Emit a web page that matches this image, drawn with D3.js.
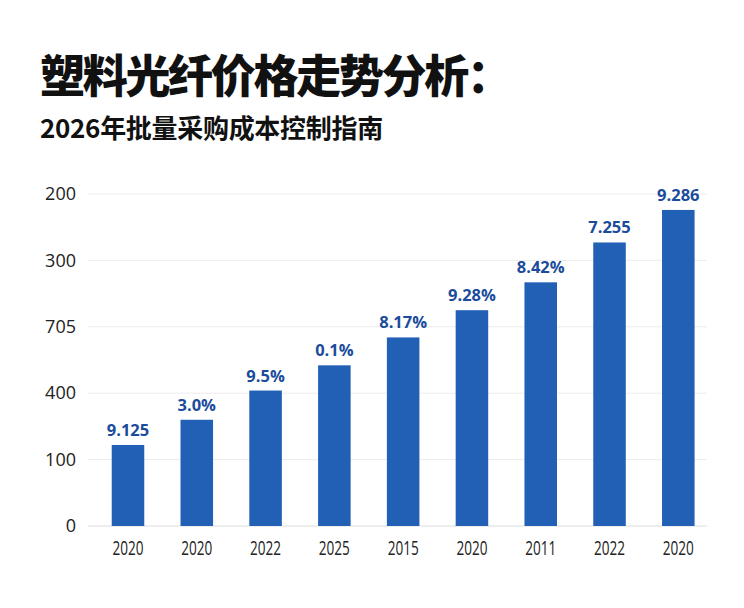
<!DOCTYPE html>
<html><head><meta charset="utf-8">
<script src="https://cdn.jsdelivr.net/npm/d3@7"></script>
<style>
html,body{margin:0;padding:0;background:#fff;}
svg{display:block;}
</style></head>
<body>
<svg id="chart" width="744" height="608"></svg>
<script>
const title = "塑料光纤价格走势分析：";
const subtitle = "2026年批量采购成本控制指南";
const categories = ["2020","2020","2022","2025","2015","2020","2011","2022","2020"];
const values = [122, 160, 204, 242, 284, 325, 367, 427, 476];
const valueLabels = ["9.125","3.0%","9.5%","0.1%","8.17%","9.28%","8.42%","7.255","9.286"];
const yTickValues = [0, 100, 200, 300, 400, 500];
const yTickLabels = ["0","100","400","705","300","200"];

const svg = d3.select("#chart");
const font = "'Noto Sans CJK SC','Noto Sans',sans-serif";

svg.append("text").attr("x", 40).attr("y", 93)
  .attr("font-family", font).attr("font-weight", 900).attr("font-size", 45)
  .attr("letter-spacing", -2.3)
  .attr("fill", "#111").text(title);
svg.append("text").attr("x", 40).attr("y", 138)
  .attr("font-family", font).attr("font-weight", 700).attr("font-size", 26)
  .attr("letter-spacing", -0.3)
  .attr("fill", "#111").text(subtitle);

const idx = categories.map((d, i) => i);
const x = d3.scaleBand().domain(idx).range([93.6, 712.7])
  .paddingInner(0.527).paddingOuter(0.2635);
const y = d3.scaleLinear().domain([0, 500]).range([526, 194]);

// gridlines
svg.append("g").selectAll("line").data(yTickValues).join("line")
  .attr("x1", 88).attr("x2", 707)
  .attr("y1", d => y(d)).attr("y2", d => y(d))
  .attr("stroke", d => d === 0 ? "#dcdcdc" : "#ececec").attr("stroke-width", 1);

// y axis labels
const yAxis = d3.axisLeft(y).tickValues(yTickValues)
  .tickFormat((d, i) => yTickLabels[i]).tickSize(0).tickPadding(0);
const gy = svg.append("g").attr("transform", "translate(76,0)").call(yAxis);
gy.select(".domain").remove();
gy.selectAll("text").attr("font-family", "'Open Sans','Noto Sans',sans-serif")
  .attr("font-size", 18).attr("fill", "#222");

// bars
svg.append("g").selectAll("rect").data(values).join("rect")
  .attr("x", (d, i) => x(i)).attr("width", x.bandwidth())
  .attr("y", d => y(d)).attr("height", d => y(0) - y(d))
  .attr("fill", "#2260b6");

// value labels
svg.append("g").selectAll("text").data(values).join("text")
  .attr("x", (d, i) => x(i) + x.bandwidth() / 2)
  .attr("y", d => y(d) - 9)
  .attr("text-anchor", "middle")
  .attr("font-family", "'Open Sans','Noto Sans',sans-serif")
  .attr("font-weight", 700).attr("font-size", 16.5)
  .attr("fill", "#1b4c9c")
  .text((d, i) => valueLabels[i]);

// x axis labels
const xAxis = d3.axisBottom(x).tickFormat(i => categories[i]).tickSize(0).tickPadding(0);
const gx = svg.append("g").attr("transform", "translate(0,555)").call(xAxis);
gx.select(".domain").remove();
gx.selectAll("text").attr("dy", 0)
  .attr("font-family", "'Open Sans','Noto Sans',sans-serif")
  .attr("font-size", 19.5).attr("fill", "#222")
  .attr("textLength", 31).attr("lengthAdjust", "spacingAndGlyphs");
</script>
</body></html>
